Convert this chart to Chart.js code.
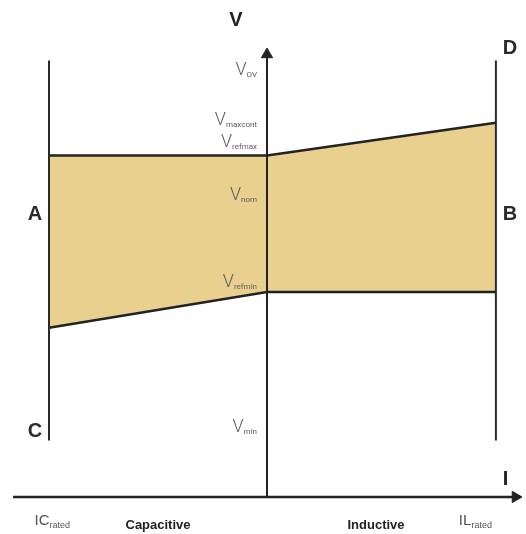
<!DOCTYPE html>
<html>
<head>
<meta charset="utf-8">
<script src="https://cdn.jsdelivr.net/npm/chart.js@4"></script>
<style>
  html, body { margin: 0; padding: 0; background: #fff; }
  #wrap { width: 526px; height: 534px; }
</style>
</head>
<body>
<div id="wrap"><canvas id="chartVI" width="526" height="534"></canvas></div>
<script>
// V-I characteristic, current in p.u. of rated, voltage in p.u.
const I_CAP_RATED = -1.0;
const I_IND_RATED = 1.05;
const limitI = [I_CAP_RATED, 0, I_IND_RATED];
const upperV = [1.15, 1.15, 1.26];   // Vrefmax -> Vmaxcont
const lowerV = [0.57, 0.69, 0.69];   // -> Vrefmin
const ratedLineV = [0.19, 1.47];
const axisI = [-1.165, 1.14];
const axisV = [0, 1.49];

// voltage levels written next to the V axis
const levelMain = ['V', 'V', 'V', 'V', 'V', 'V'];
const levelSub = ['OV', 'maxcont', 'refmax', 'nom', 'refmin', 'min'];
const levelV = [1.44, 1.26, 1.15, 1.0, 0.69, 0.23];
const levelDy = [6, 2, -8, 0, -5, 3];

// corner letters A..D
const cornerNames = ['A', 'B', 'C', 'D'];
const cornerI = [I_CAP_RATED, I_IND_RATED, I_CAP_RATED, I_IND_RATED];
const cornerV = [0.95, 0.95, 0.22, 1.51];

const INK = '#222';
const FILL = '#e9d08f';
const GREY = '#5c5c5c';

function subLabel(ctx, main, sub, right, base, mainFont, subFont, color, subDy) {
   ctx.font = mainFont;
   const wm = ctx.measureText(main).width;
   ctx.font = subFont;
   const ws = ctx.measureText(sub).width;
   const left = right - wm - ws;
   ctx.fillStyle = color;
   ctx.textAlign = 'left';
   ctx.textBaseline = 'alphabetic';
   ctx.font = mainFont;
   ctx.fillText(main, left, base);
   ctx.font = subFont;
   ctx.fillText(sub, left + wm, base + subDy);
}

const labelPlugin = {
   id: 'viLabels',
   afterDatasetsDraw(chart) {
      const { ctx, scales: { x, y } } = chart;
      const x0 = x.getPixelForValue(0);
      const y0 = y.getPixelForValue(0);
      ctx.save();

      // axis names
      ctx.fillStyle = INK;
      ctx.font = 'bold 20px "Liberation Sans", Arial, sans-serif';
      ctx.textAlign = 'center';
      ctx.textBaseline = 'middle';
      ctx.fillText('V', x0 - 31, 20);
      ctx.fillText('I', x.getPixelForValue(axisI[1]) - 10, y0 - 18);

      // corner letters
      ctx.fillStyle = '#2b2b2b';
      cornerNames.forEach((n, i) => {
         const dx = cornerI[i] < 0 ? -14 : 14;
         ctx.fillText(n, x.getPixelForValue(cornerI[i]) + dx, y.getPixelForValue(cornerV[i]));
      });

      // voltage levels
      levelSub.forEach((s, i) => {
         subLabel(ctx, levelMain[i], s, x0 - 10, y.getPixelForValue(levelV[i]) + levelDy[i],
            '300 18px Roboto, "Liberation Sans", sans-serif', '8px Roboto, "Liberation Sans", sans-serif', GREY, 2);
      });

      // bottom texts
      subLabel(ctx, 'IC', 'rated', x.getPixelForValue(I_CAP_RATED) + 21, y0 + 28,
         '15px "Liberation Sans", Arial, sans-serif', '9px "Liberation Sans", Arial, sans-serif', '#555', 3);
      subLabel(ctx, 'IL', 'rated', x.getPixelForValue(I_IND_RATED) - 4, y0 + 28,
         '15px "Liberation Sans", Arial, sans-serif', '9px "Liberation Sans", Arial, sans-serif', '#555', 3);
      ctx.fillStyle = INK;
      ctx.font = 'bold 13px "Liberation Sans", Arial, sans-serif';
      ctx.textAlign = 'center';
      ctx.textBaseline = 'alphabetic';
      ctx.fillText('Capacitive', x.getPixelForValue(-0.5), y0 + 32);
      ctx.fillText('Inductive', x.getPixelForValue(0.5), y0 + 32);
      ctx.restore();
   }
};

const pts = (xs, ys) => xs.map((v, i) => ({ x: v, y: ys[i] }));

const ctx = document.getElementById('chartVI').getContext('2d');
const chartVI = new Chart(ctx, {
   type: 'line',
   data: {
      datasets: [
         {  // V axis with arrow
            data: pts([0, 0], axisV),
            borderColor: INK, borderWidth: 2,
            pointRadius: [0, 6.5], pointStyle: 'triangle', rotation: 0,
            pointBackgroundColor: INK, pointBorderColor: INK, pointBorderWidth: 1,
         },
         {  // I axis with arrow
            data: pts(axisI, [0, 0]),
            borderColor: INK, borderWidth: 2.5,
            pointRadius: [0, 6.5], pointStyle: 'triangle', rotation: 90,
            pointBackgroundColor: INK, pointBorderColor: INK, pointBorderWidth: 1,
         },
         {  // capacitive rated current
            data: pts([I_CAP_RATED, I_CAP_RATED], ratedLineV),
            borderColor: '#2a2a2a', borderWidth: 2, pointRadius: 0,
         },
         {  // inductive rated current
            data: pts([I_IND_RATED, I_IND_RATED], ratedLineV),
            borderColor: '#2a2a2a', borderWidth: 2, pointRadius: 0,
         },
         {  // upper limit, filled down to the lower limit
            data: pts(limitI, upperV),
            borderColor: INK, borderWidth: 2.5, pointRadius: 0,
            fill: '+1', backgroundColor: FILL,
         },
         {  // lower limit
            data: pts(limitI, lowerV),
            borderColor: INK, borderWidth: 2.5, pointRadius: 0,
         },
      ]
   },
   options: {
      responsive: false,
      animation: false,
      devicePixelRatio: 1,
      layout: { padding: 0, autoPadding: false },
      elements: { line: { tension: 0 } },
      scales: {
         x: { type: 'linear', display: false, min: -1.2248, max: 1.1881 },
         y: { type: 'linear', display: false, min: -0.1246, max: 1.6734 },
      },
      plugins: {
         legend: { display: false },
         tooltip: { enabled: false },
         filler: { drawTime: 'beforeDatasetsDraw' },
      }
   },
   plugins: [labelPlugin]
});
</script>
</body>
</html>
